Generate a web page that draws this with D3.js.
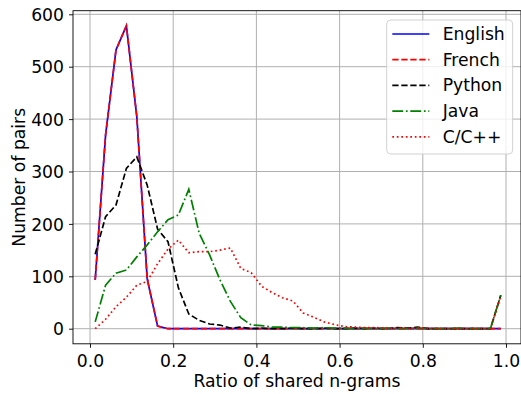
<!DOCTYPE html>
<html>
<head>
<meta charset="utf-8">
<script src="https://cdn.jsdelivr.net/npm/d3@7"></script>
<style>
  body { margin: 0; background: #fff; }
  svg { font-family: "DejaVu Sans", sans-serif; }
</style>
</head>
<body>
<div id="chart"></div>
<script>
// bin centres of the n-gram ratio histogram
var ratios = [0.0125, 0.0375, 0.0625, 0.0875, 0.1125, 0.1375, 0.1625, 0.1875, 0.2125, 0.2375,
              0.2625, 0.2875, 0.3125, 0.3375, 0.3625, 0.3875, 0.4125, 0.4375, 0.4625, 0.4875,
              0.5125, 0.5375, 0.5625, 0.5875, 0.6125, 0.6375, 0.6625, 0.6875, 0.7125, 0.7375,
              0.7625, 0.7875, 0.8125, 0.8375, 0.8625, 0.8875, 0.9125, 0.9375, 0.9625, 0.9875];

var english = [93, 370, 532, 578, 405, 95, 5, 0, 0, 0,
               0, 0, 0, 0, 0, 0, 0, 0, 0, 0,
               0, 0, 0, 0, 0, 0, 0, 0, 0, 0,
               0, 0, 0, 0, 0, 0, 0, 0, 0, 0];
var french = [93, 370, 532, 578, 405, 95, 5, 0, 0, 0,
              0, 0, 0, 0, 0, 0, 0, 0, 0, 0,
              0, 0, 0, 0, 0, 0, 0, 0, 0, 0,
              0, 0, 0, 0, 0, 0, 0, 0, 0, 0];
var python = [142, 214, 236, 306, 328, 274, 190, 166, 78, 28,
              16, 9, 7, 1, 3, 0, 1, 0, 0, 1,
              0, 0, 1, 0, 0, 1, 0, 1, 0, 2,
              1, 3, 0, 0, 0, 0, 0, 0, 0, 64];
var java = [13, 83, 106, 112, 137, 160, 185, 208, 217, 266,
            182, 141, 93, 52, 21, 7, 6, 3, 3, 2,
            2, 1, 2, 1, 1, 0, 1, 0, 1, 0,
            0, 1, 0, 0, 0, 1, 0, 0, 0, 64];
var cpp = [0, 18, 42, 60, 83, 90, 124, 152, 169, 145,
           147, 147, 150, 154, 115, 107, 81, 69, 59, 53,
           30, 22, 13, 8, 4, 3, 2, 2, 1, 1,
           1, 1, 1, 0, 0, 0, 0, 0, 0, 62];

var xTicks = [0.0, 0.2, 0.4, 0.6, 0.8, 1.0];
var yTicks = [0, 100, 200, 300, 400, 500, 600];

var series = [
  {name: "English", values: english, color: "#0000ff", dash: null},
  {name: "French", values: french, color: "#ff0000", dash: "6.3,2.7"},
  {name: "Python", values: python, color: "#000000", dash: "6.3,2.7"},
  {name: "Java", values: java, color: "#008000", dash: "10.9,2.7,1.7,2.7"},
  {name: "C/C++", values: cpp, color: "#ff0000", dash: "1.7,2.8"}
];

var svgWidth = 521;
var svgHeight = 394;
var plotLeft = 73, plotRight = 521, plotTop = 10.7, plotBottom = 343.8;
var fontSize = "17.2px";

var svg = d3.select("#chart")
  .append("svg")
  .attr("width", svgWidth)
  .attr("height", svgHeight);

var x = d3.scaleLinear().domain([0, 1]).range([90, 506]);
var y = d3.scaleLinear().domain([0, 600]).range([328.7, 14.3]);

// grid
svg.append("g")
  .selectAll("line")
  .data(xTicks)
  .enter()
  .append("line")
  .attr("x1", d => x(d)).attr("x2", d => x(d))
  .attr("y1", plotTop).attr("y2", plotBottom)
  .attr("stroke", "#b0b0b0").attr("stroke-width", 1);

svg.append("g")
  .selectAll("line")
  .data(yTicks)
  .enter()
  .append("line")
  .attr("y1", d => y(d)).attr("y2", d => y(d))
  .attr("x1", plotLeft).attr("x2", plotRight)
  .attr("stroke", "#b0b0b0").attr("stroke-width", 1);

// lines
var line = d3.line()
  .x((d, i) => x(ratios[i]))
  .y(d => y(d));

series.forEach(function(s) {
  svg.append("path")
    .datum(s.values)
    .attr("d", line)
    .attr("fill", "none")
    .attr("stroke", s.color)
    .attr("stroke-width", 1.7)
    .attr("stroke-dasharray", s.dash);
});

// axes
var xAxis = svg.append("g")
  .attr("transform", `translate(0, ${plotBottom})`)
  .call(d3.axisBottom(x).tickValues(xTicks).tickFormat(d3.format(".1f")).tickSize(4).tickPadding(4).tickSizeOuter(0));
xAxis.select(".domain").remove();
xAxis.selectAll("text").attr("dy", "0.88em").attr("font-size", fontSize).attr("fill", "#000").attr("font-family", "DejaVu Sans");

var yAxis = svg.append("g")
  .attr("transform", `translate(${plotLeft}, 0)`)
  .call(d3.axisLeft(y).tickValues(yTicks).tickSize(4).tickPadding(5).tickSizeOuter(0));
yAxis.select(".domain").remove();
yAxis.selectAll("text").attr("dy", "0.36em").attr("font-size", fontSize).attr("fill", "#000").attr("font-family", "DejaVu Sans");
svg.selectAll(".tick line").attr("stroke", "#000").attr("stroke-width", 0.9);

// frame
svg.append("rect")
  .attr("x", plotLeft).attr("y", plotTop)
  .attr("width", plotRight - plotLeft).attr("height", plotBottom - plotTop)
  .attr("fill", "none").attr("stroke", "#000").attr("stroke-width", 0.9);

// labels
svg.append("text")
  .attr("x", (plotLeft + plotRight) / 2)
  .attr("y", 387)
  .attr("text-anchor", "middle")
  .attr("font-size", fontSize)
  .text("Ratio of shared n-grams");

svg.append("text")
  .attr("transform", `translate(25, ${(plotTop + plotBottom) / 2}) rotate(-90)`)
  .attr("text-anchor", "middle")
  .attr("font-size", fontSize)
  .text("Number of pairs");

// legend
var legend = svg.append("g");
legend.append("rect")
  .attr("x", 386.7).attr("y", 20)
  .attr("width", 126).attr("height", 134)
  .attr("rx", 4)
  .attr("fill", "#fff").attr("fill-opacity", 0.8)
  .attr("stroke", "#cccccc").attr("stroke-width", 0.9);

series.forEach(function(s, i) {
  var cy = 34 + i * 25.7;
  legend.append("line")
    .attr("x1", 392.3).attr("x2", 429.3)
    .attr("y1", cy).attr("y2", cy)
    .attr("stroke", s.color)
    .attr("stroke-width", 1.7)
    .attr("stroke-dasharray", s.dash);
  legend.append("text")
    .attr("x", 442.7)
    .attr("y", cy + 6)
    .attr("font-size", fontSize)
    .text(s.name);
});
</script>
</body>
</html>
